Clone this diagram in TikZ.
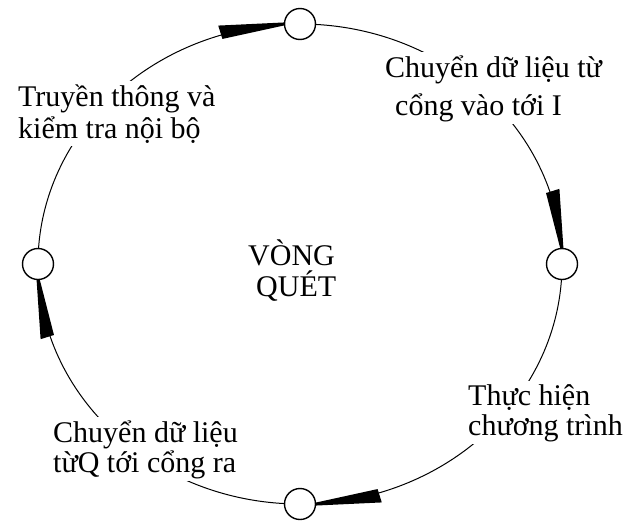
\documentclass[tikz,border=0pt]{standalone}
\usepackage{fontspec}
\setmainfont{Liberation Serif}
\newcommand\wedgeto[1]{%
  \fill ({300+272*cos(#1-17.5)},{264+250*sin(#1-17.5)})
     -- ({300+264*cos(#1-3.5)},{264+242*sin(#1-3.5)})
     -- ({300+261*cos(#1-3.5)},{264+239*sin(#1-3.5)})
     -- ({300+258*cos(#1-17.5)},{264+236*sin(#1-17.5)}) -- cycle;}
\begin{document}
\begin{tikzpicture}[x=1pt,y=-1pt,
  ring/.style={line width=1pt},
  port/.style={circle,draw,line width=1.4pt,fill=white,minimum size=31pt,inner sep=0pt},
  lbl/.style={fill=white,inner sep=3pt,align=left,anchor=base west}]
\useasboundingbox (0,0) rectangle (624,520);
\fill[white] (0,0) rectangle (624,520);
\coordinate (ptop) at (300,24);
\coordinate (pright) at (562,264);
\coordinate (pbot) at (300,504);
\coordinate (pleft) at (38,264);
\draw[ring] (ptop) arc[start angle=-90,end angle=0,x radius=262,y radius=240];
\draw[ring] (pright) arc[start angle=0,end angle=90,x radius=262,y radius=240];
\draw[ring] (pbot) arc[start angle=90,end angle=180,x radius=262,y radius=240];
\draw[ring] (pleft) arc[start angle=180,end angle=270,x radius=262,y radius=240];
\wedgeto{-90}
\wedgeto{0}
\wedgeto{90}
\wedgeto{180}
\node[port] (ntop) at (ptop) {};
\node[port] (nright) at (pright) {};
\node[port] (nbot) at (pbot) {};
\node[port] (nleft) at (pleft) {};
\node[lbl,font=\fontsize{30}{38}\selectfont] (lin) at (382,115) {Chuyển dữ liệu từ\\\hspace*{10pt}cổng vào tới I};
\node[lbl,font=\fontsize{30}{32}\selectfont] (lcomm) at (15,138) {Truyền thông và\\kiểm tra nội bộ};
\node[lbl,font=\fontsize{30}{30}\selectfont] (lexec) at (465,435) {Thực hiện\\chương trình};
\node[lbl,font=\fontsize{30}{30}\selectfont] (lout) at (50,472) {Chuyển dữ liệu\\từQ tới cổng ra};
\node[lbl,fill=none,font=\fontsize{30}{31}\selectfont] (lscan) at (245,296) {VÒNG\\\hspace*{8pt}QUÉT};
\end{tikzpicture}
\end{document}
